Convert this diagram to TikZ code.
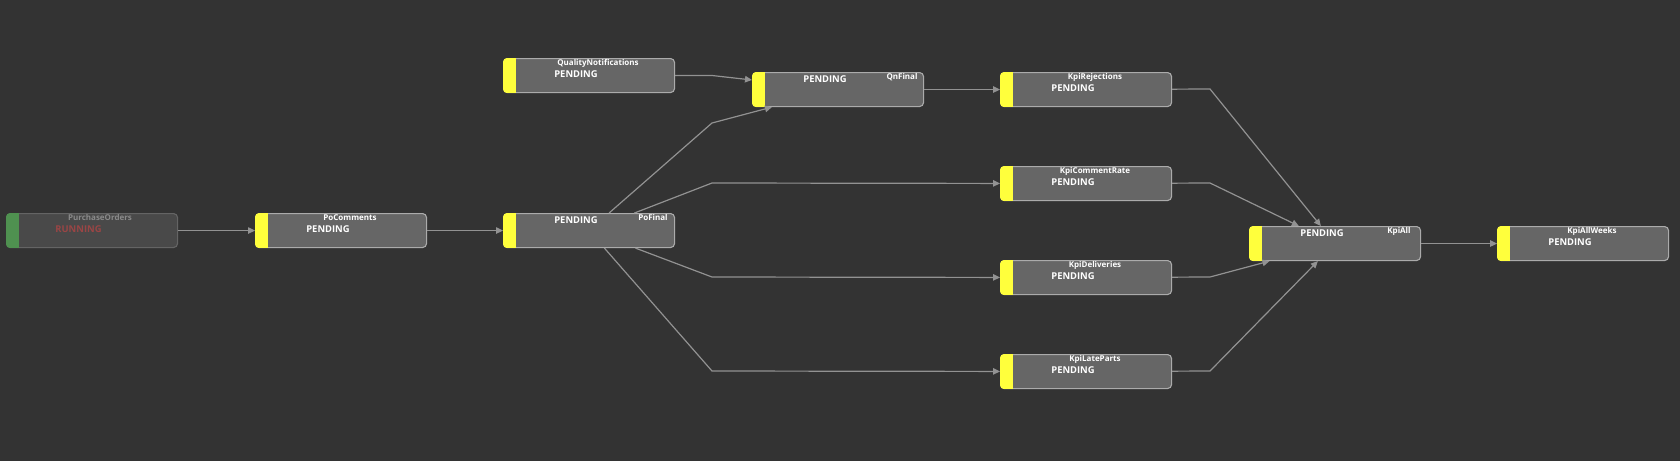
\documentclass[tikz,border=0pt]{standalone}
\usepackage{fontspec}
\setmainfont{Open Sans}
\usetikzlibrary{arrows.meta,calc}

\definecolor{canvas}{HTML}{333333}
\definecolor{jobfill}{HTML}{666666}
\definecolor{jobline}{HTML}{ABABAB}
\definecolor{idlefill}{HTML}{494949}
\definecolor{idleline}{HTML}{646464}
\definecolor{idletext}{HTML}{8A8A8A}
\definecolor{runtext}{HTML}{9A4545}
\definecolor{pendyellow}{HTML}{FFFF3C}
\definecolor{rungreen}{HTML}{4F9150}
\definecolor{wire}{HTML}{929292}

\tikzstyle{job}=[draw=jobline,fill=jobfill,rounded corners=4pt,line width=1.1pt,
    minimum width=171pt,minimum height=34pt,inner sep=0pt,anchor=north west]
\tikzstyle{running}=[draw=idleline,fill=idlefill]
\tikzstyle{title}=[text=white,font=\fontsize{8}{8}\selectfont\bfseries,anchor=base,inner sep=0pt]
\tikzstyle{status}=[text=white,font=\fontsize{9.4}{9.4}\selectfont\bfseries,anchor=base,inner sep=0pt]
\tikzstyle{edge}=[draw=wire,line width=1.2pt,-{Triangle[length=7pt,width=6.5pt]}]

\begin{document}
\begin{tikzpicture}[x=1pt,y=-1pt]
        \fill[canvas] (0,0) rectangle (1680,461);
        \useasboundingbox (0,0) rectangle (1680,461);

        %% The running source job
        \node[job,running] (PurchaseOrders) at (6,213) {};
        \begin{scope}
        \clip[rounded corners=4pt] (PurchaseOrders.north west) rectangle (PurchaseOrders.south east);
        \fill[rungreen] (PurchaseOrders.north west) rectangle ([xshift=13pt]PurchaseOrders.south west);
        \end{scope}
        \node[title,text=idletext] (PurchaseOrders-title) at ($(PurchaseOrders.north west)+(94,7.8)$) {PurchaseOrders};
        \node[status,text=runtext] (PurchaseOrders-status) at ($(PurchaseOrders.north west)+(72.5,19.8)$) {RUNNING};

        %% Pending jobs, title over the status
        \foreach \job/\x/\y in {PoComments/255/213,QualityNotifications/503/58,
            KpiRejections/1000/72,KpiCommentRate/1000/166,KpiDeliveries/1000/260,
            KpiLateParts/1000/354,KpiAllWeeks/1497/226}
        {
        \node[job] (\job) at (\x,\y) {};
        \begin{scope}
        \clip[rounded corners=4pt] (\job.north west) rectangle (\job.south east);
        \fill[pendyellow] (\job.north west) rectangle ([xshift=13pt]\job.south west);
        \end{scope}
        \node[title] (\job-title) at ($(\job.north west)+(95,7.8)$) {\job};
        \node[status] (\job-status) at ($(\job.north west)+(73,19.8)$) {PENDING};
        }

        %% Pending jobs, title on the right
        \foreach \job/\x/\y in {PoFinal/503/213,QnFinal/752/72,KpiAll/1249/226}
        {
        \node[job] (\job) at (\x,\y) {};
        \begin{scope}
        \clip[rounded corners=4pt] (\job.north west) rectangle (\job.south east);
        \fill[pendyellow] (\job.north west) rectangle ([xshift=13pt]\job.south west);
        \end{scope}
        \node[title] (\job-title) at ($(\job.north west)+(150,7.8)$) {\job};
        \node[status] (\job-status) at ($(\job.north west)+(73,10.8)$) {PENDING};
        }

        %%% The straight connections
        \draw[edge] (PurchaseOrders) -- (PoComments);
        \draw[edge] (PoComments) -- (PoFinal);
        \draw[edge] (QnFinal) -- (KpiRejections);
        \draw[edge] (KpiAll) -- (KpiAllWeeks);

        %%% Into QnFinal
        \coordinate (qn-in) at (712,75.5);
        \draw[edge] (QualityNotifications) -- (qn-in) -- (QnFinal);
        \coordinate (pf-out) at (712,123);
        \draw[edge] (PoFinal) -- (pf-out) -- (QnFinal);

        %%% Fan out of PoFinal
        \foreach \kpi/\y in {KpiCommentRate/183,KpiDeliveries/277,KpiLateParts/371}
        {
        \coordinate (in-\kpi) at (712,\y);
        \draw[edge] (PoFinal) -- (in-\kpi) -- (\kpi);
        }

        %%% Fan in to KpiAll
        \foreach \kpi/\y in {KpiRejections/89,KpiCommentRate/183,KpiDeliveries/277,KpiLateParts/371}
        {
        \coordinate (out-\kpi) at (1210,\y);
        \draw[edge] (\kpi) -- (out-\kpi) -- (KpiAll);
        }
    \end{tikzpicture}
\end{document}
